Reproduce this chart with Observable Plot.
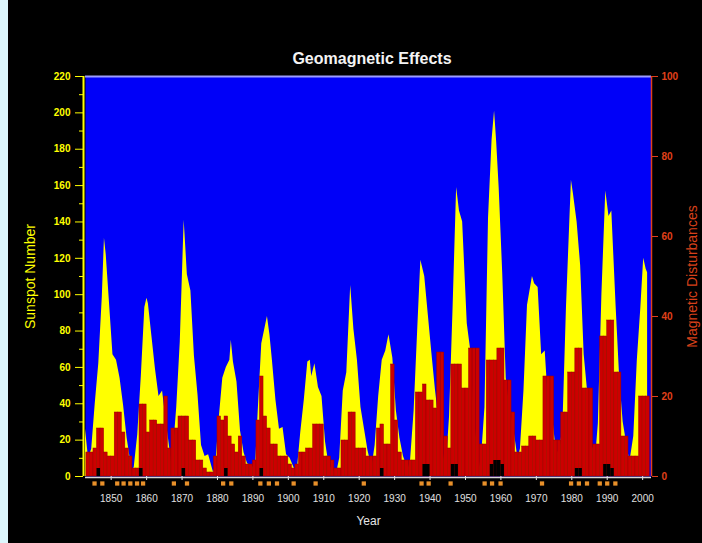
<!DOCTYPE html>
<html><head><meta charset="utf-8">
<script src="https://cdn.jsdelivr.net/npm/d3@7"></script>
<script src="https://cdn.jsdelivr.net/npm/@observablehq/plot@0.6"></script>
<style>
html,body{margin:0;padding:0;background:#000;}
#wrap{position:relative;width:702px;height:543px;background:#000;overflow:hidden;}
#edge{position:absolute;left:0;top:0;width:8px;height:543px;background:#dcf6fc;}
#title{position:absolute;top:50px;left:222px;width:300px;text-align:center;color:#f4f4f4;font:bold 16px "Liberation Sans",Arial,sans-serif;}
#chart{position:absolute;left:0;top:68px;}
</style></head><body>
<div id="wrap"><div id="chart"></div><div id="edge"></div><div id="title">Geomagnetic Effects</div></div>
<script>
// Smoothed sunspot number (time in fractional years, value)
const ssnT = [1842.75,1843.6,1844.5,1845.5,1846.5,1847.5,1848.1,1848.6,1849.5,
  1850.5,1851.5,1852.5,1853.5,1854.5,1855.9,1856.5,1857.5,1858.5,1859.5,
  1860.1,1860.5,1861.5,1862.5,1863.5,1864.5,1865.5,1866.5,1867.2,1868.5,1869.5,
  1870.6,1871.5,1872.5,1873.5,1874.5,1875.5,1876.5,1877.5,1878.9,1879.5,
  1880.5,1881.5,1882.5,1883.5,1883.9,1884.5,1885.5,1886.5,1887.5,1888.5,1889.5,
  1890.2,1890.8,1891.5,1892.5,1894.1,1894.8,1895.5,1896.5,1897.5,1898.5,1899.5,
  1900.5,1902.0,1902.6,1903.5,1904.5,1905.5,1906.2,1906.6,1907.5,1908.5,1909.5,
  1910.5,1911.5,1912.5,1913.6,1914.5,1915.5,1916.5,1917.6,1918.5,1919.5,
  1920.5,1921.5,1922.5,1923.6,1924.5,1925.5,1926.5,1927.5,1928.4,1929.5,
  1930.5,1931.5,1932.5,1933.8,1934.5,1935.5,1936.5,1937.4,1938.5,1939.5,
  1940.5,1941.5,1942.5,1943.5,1944.2,1944.8,1945.5,1946.5,1947.5,1948.3,1949.2,
  1950.5,1951.5,1952.5,1953.5,1954.3,1955.5,1956.5,1957.5,1958.2,1958.8,1959.5,
  1960.5,1961.5,1962.5,1963.5,1964.8,1965.5,1966.5,1967.5,1968.9,1969.5,
  1970.5,1971.5,1972.5,1973.5,1974.5,1975.5,1976.5,1977.5,1978.5,1979.9,
  1980.5,1981.5,1982.5,1983.5,1984.5,1985.5,1986.8,1987.5,1988.5,1989.6,
  1990.5,1991.3,1992.5,1993.5,1994.5,1995.5,1996.4,1997.5,1998.5,1999.5,
  2000.3,2001.0,2001.4];
const ssnV = [26,10,15,40,62,99,131,122,96,
  67,64,54,39,21,3,5,23,55,93,
  98,95,77,59,44,47,31,16,5,38,74,
  141,111,102,66,45,17,11,12,2,6,
  32,54,60,64,75,63,52,25,13,7,6,
  5,8,36,73,88,78,64,42,26,27,12,
  10,3,5,24,42,63,64,55,62,49,44,
  19,6,4,1.5,10,47,57,105,81,64,
  38,26,14,5,17,44,64,69,78,65,
  36,21,11,4,9,36,80,119,110,89,
  68,48,31,16,8,12,33,93,159,146,140,
  84,69,32,14,4,38,142,185,201,184,159,
  112,54,38,28,10,15,47,94,110,106,
  104,67,69,38,35,16,12,28,93,163,
  155,140,116,67,46,18,12,29,100,157,
  143,146,94,55,30,18,8,22,64,93,
  120,114,112];

// Magnetic disturbances, one value per year (right axis, 0-100)
const magStart = 1843;
const magV = [6,6,7,12,12,6,5,
  5,16,16,11,7,5,2,2,18,18,
  11,14,14,13,13,20,7,12,12,15,
  15,15,9,9,4,4,2,1,1,5,
  15,14,15,10,8,6,10,5,3,3,
  4,14,25,15,12,8,8,5,5,5,
  3,2,3,6,6,7,7,13,13,13,
  5,5,4,2,2,9,9,16,16,7,
  7,7,5,5,5,12,13,8,8,28,
  14,6,4,4,4,4,21,21,23,19,
  19,17,31,31,10,7,28,28,28,22,
  22,32,32,32,8,8,29,29,29,32,
  32,24,24,16,6,6,7.5,7.5,10,10,
  9,9,25,25,25,9,9,16,16,26,
  26,32,32,22,22,22,8,8,35,35,
  39,39,26,26,10,10,5,5,5,20,
  20,20];

// Small black bars (major storm counts)
const stormYears = [1846,1858,1870,1882,1892,1926,1938,1939,1946,1947,1957,1958,1959,1960,1981,1982,1989,1990,1991];
const stormV     = [2,2,2,2,2,2,3,3,3,3,3,4,4,3,2,2,3,3,2];

// Orange markers below the axis
const markerYears = [1845.3,1847.5,1851.7,1853.5,1855.4,1857.3,1859,1867.7,1871.4,1881.6,1883.9,1892.1,1894.5,1896.8,1901.5,1907.7,1921.3,1937.6,1939.6,1945.8,1955.4,1957.5,1959.9,1971.6,1979.8,1982,1984.3,1987.9,1990,1992.3];

const yearTicks = [1850,1860,1870,1880,1890,1900,1910,1920,1930,1940,1950,1960,1970,1980,1990,2000];
const leftTicks = [0,20,40,60,80,100,120,140,160,180,200,220];
const leftMinor = [10,30,50,70,90,110,130,150,170,190,210];
const rightTicks = [0,20,40,60,80,100];

const xDomain = [1842.75, 2002.5];
const yMax = 220, rMax = 100, K = yMax / rMax;

const ssn = ssnT.map((t, i) => ({t, v: ssnV[i]}));
const mag = magV.map((v, i) => ({y0: magStart + i, y1: magStart + i + 1, v: v * K}));
const storms = stormYears.map((y, i) => ({y0: y, y1: y + 1, v: stormV[i] * K}));

const font = "'Liberation Sans', Arial, sans-serif";
const chart = Plot.plot({
  width: 702, height: 475,
  marginLeft: 85, marginRight: 51, marginTop: 8, marginBottom: 67,
  style: {background: "#000", color: "#e6e6e6", fontFamily: font, overflow: "visible"},
  x: {domain: xDomain},
  y: {domain: [0, yMax]},
  marks: [
    Plot.frame({fill: "#0000f8", stroke: null}),
    Plot.areaY(ssn, {x: "t", y: "v", fill: "#ffff00"}),
    Plot.rectY(mag, {x1: "y0", x2: "y1", y: "v", fill: "#cc0000", stroke: "#990000", strokeWidth: 0.5}),
    Plot.rectY(storms, {x1: "y0", x2: "y1", y: "v", fill: "#000"}),
    Plot.ruleY([yMax], {stroke: "#9c9cff", strokeWidth: 2}),
    Plot.ruleY([0], {stroke: "#d8d8d8", strokeWidth: 1.5, dy: 1}),
    Plot.ruleX([xDomain[0]], {stroke: "#ffff00", strokeWidth: 2, dx: -2}),
    Plot.ruleX([xDomain[1]], {stroke: "#e0401a", strokeWidth: 1.5}),
    Plot.axisY({anchor: "left", ticks: leftMinor, tickSize: 4, tickFormat: () => "", color: "#ffff00", label: null, dx: -2}),
    Plot.axisY({anchor: "left", ticks: leftTicks, tickSize: 8, tickPadding: 5, color: "#ffff00", fontSize: 10, fontWeight: "bold", label: null, dx: -2}),
    Plot.axisY({anchor: "right", ticks: rightTicks.map(d => d * K), tickFormat: d => String(Math.round(d / K)), tickSize: 6, tickPadding: 4, color: "#e0401a", fontSize: 10, fontWeight: "bold", label: null}),
    Plot.axisX({ticks: yearTicks, tickFormat: d => String(d), tickSize: 4, tickPadding: 14, color: "#e0e0e0", fontSize: 10, label: null}),
    Plot.dot(markerYears, {x: d => d, frameAnchor: "bottom", dy: 7, symbol: "square", r: 2.4, fill: "#e8902a"}),
    Plot.text(["Year"], {text: d => d, frameAnchor: "bottom", dy: 45, fill: "#e6e6e6", fontSize: 12, textAnchor: "middle", lineAnchor: "middle"}),
    Plot.text(["Sunspot Number"], {text: d => d, frameAnchor: "left", dx: -55, rotate: -90, fill: "#ffff00", fontSize: 14, textAnchor: "middle", lineAnchor: "middle"}),
    Plot.text(["Magnetic Disturbances"], {text: d => d, frameAnchor: "right", dx: 41, rotate: -90, fill: "#d8401a", fontSize: 14, textAnchor: "middle", lineAnchor: "middle"})
  ]
});
document.getElementById("chart").appendChild(chart);
</script>
</body></html>
